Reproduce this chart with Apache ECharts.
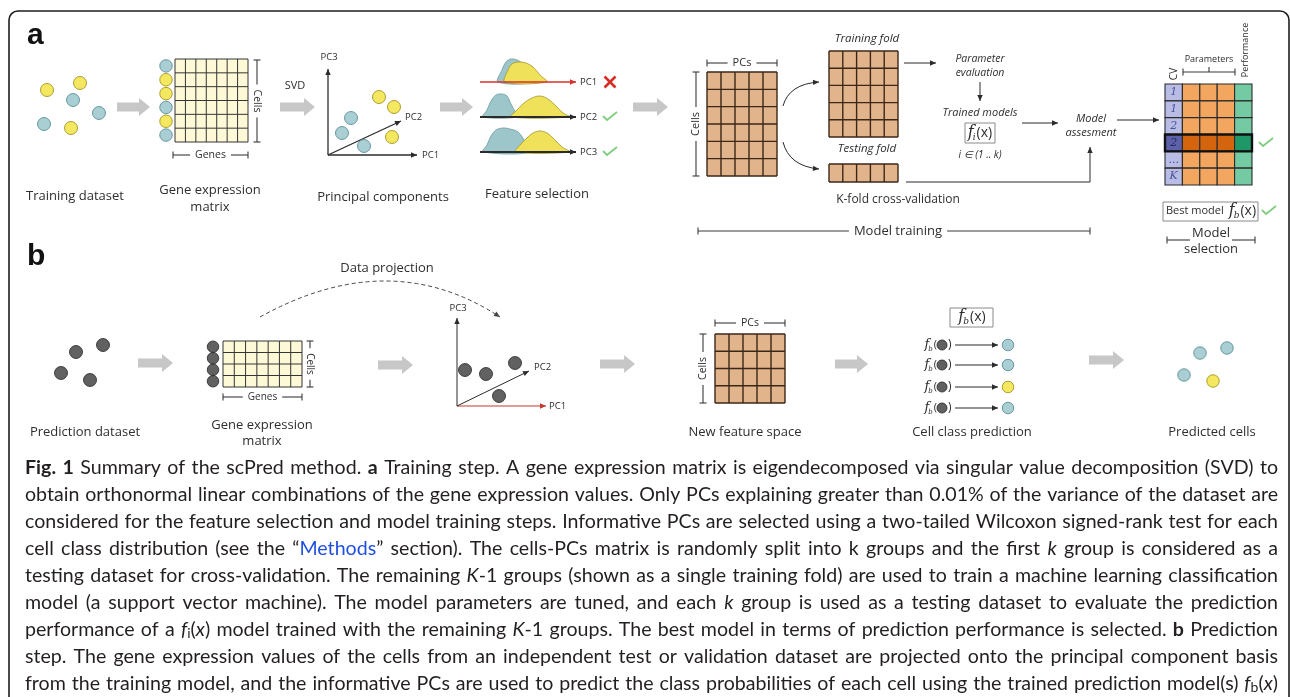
<!DOCTYPE html>
<html>
<head>
<meta charset="utf-8">
<title>scPred overview</title>
<script src="https://cdn.jsdelivr.net/npm/echarts@6/dist/echarts.min.js"></script>
<style>
  html, body { margin: 0; padding: 0; background: #ffffff; }
  #chart { width: 1290px; height: 697px; }
</style>
</head>
<body>
<div id="chart"></div>
<script>
// ---------------------------------------------------------------------------
// Data
// ---------------------------------------------------------------------------
// Cell positions in the dataset / PC-space plots and the class each cell belongs to
const trainingCells      = [[47, 90], [80, 83], [73, 100], [99, 113], [44, 124], [71, 128]];
const trainingClasses    = ['yellow', 'yellow', 'blue', 'blue', 'blue', 'yellow'];
const exprMatrixClasses  = ['blue', 'yellow', 'yellow', 'blue', 'yellow', 'blue'];
const pcScores           = [[379, 97], [394, 107], [351, 118], [342, 133], [392, 137], [364, 146]];
const pcClasses          = ['yellow', 'yellow', 'blue', 'blue', 'yellow', 'blue'];
const queryCells         = [[76, 352], [103, 345], [61, 373], [90, 380]];
const queryScores        = [[465, 370], [486, 374], [515, 363], [499, 396]];
const predictedClasses   = ['blue', 'blue', 'yellow', 'blue'];
const predictedCells     = [[1200, 353], [1227, 348], [1184, 375], [1213, 381]];
const predictedCellClass = ['blue', 'blue', 'blue', 'yellow'];

// Feature selection: class densities along each PC (outline points on the PC axis)
const featurePCs      = ['PC1', 'PC2', 'PC3'];
const featureSelected = [false, true, true];
const densityBlue = [
  [[498, 82], [502, 70], [506, 62], [511, 59], [517, 60], [523, 64], [528, 72], [532, 82]],
  [[483, 117], [487, 110], [491, 101], [496, 95], [502, 94], [507, 96], [511, 104], [516, 113], [520, 117]],
  [[483, 152], [487, 145], [491, 136], [496, 130], [503, 128], [510, 129], [518, 132], [524, 140], [530, 152]]
];
const densityYellow = [
  [[505, 82], [508, 70], [512, 64], [518, 62], [526, 63], [533, 67], [540, 75], [547, 82]],
  [[511, 117], [517, 110], [524, 103], [532, 98], [540, 96], [548, 99], [556, 106], [563, 113], [570, 117]],
  [[516, 152], [521, 144], [527, 138], [533, 133], [540, 131], [547, 133], [554, 139], [562, 147], [570, 152]]
];

// Cross-validation grid for model selection
const cvFolds          = ['1', '1', '2', '2', '...', 'K'];
const parameterColumns = 3;
const bestFold         = 3;

// Figure caption (markup: *bold*, _italic_, [link], ~subscript~)
const captionLines = [
  '*Fig. 1* Summary of the scPred method. *a* Training step. A gene expression matrix is eigendecomposed via singular value decomposition (SVD) to',
  'obtain orthonormal linear combinations of the gene expression values. Only PCs explaining greater than 0.01% of the variance of the dataset are',
  'considered for the feature selection and model training steps. Informative PCs are selected using a two-tailed Wilcoxon signed-rank test for each',
  'cell class distribution (see the \u201c[Methods]\u201d section). The cells-PCs matrix is randomly split into k groups and the first _k_ group is considered as a',
  'testing dataset for cross-validation. The remaining _K_-1 groups (shown as a single training fold) are used to train a machine learning classification',
  'model (a support vector machine). The model parameters are tuned, and each _k_ group is used as a testing dataset to evaluate the prediction',
  'performance of a _f_~i~(_x_) model trained with the remaining _K_-1 groups. The best model in terms of prediction performance is selected. *b* Prediction',
  'step. The gene expression values of the cells from an independent test or validation dataset are projected onto the principal component basis',
  'from the training model, and the informative PCs are used to predict the class probabilities of each cell using the trained prediction model(s) _f_~b~(_x_)'
];

// ---------------------------------------------------------------------------
// Layout and styles
// ---------------------------------------------------------------------------
const W = 1290, H = 697;
const FONT = '"Open Sans", "Noto Sans", sans-serif';
const SERIF = '"DejaVu Serif", "Liberation Serif", serif';
const CAPTION_FONT = '"Lato", "Open Sans", sans-serif';
const INK = '#2e2e2e';

const CELL_STYLE = {
  blue:   { fill: '#93c2c8', stroke: '#4d868f' },
  yellow: { fill: '#f2e23a', stroke: '#9a8a12' },
  query:  { fill: '#3a3a3a', stroke: '#262626' }
};
const MATRIX_STYLE = {
  expr: { fill: '#fdf8d6', stroke: '#353535', lw: 1 },
  pc:   { fill: '#e2b48b', stroke: '#3b2718', lw: 1.4 }
};
const SELECTION_PALETTE = {
  cv:    ['#b9bde6', '#5c61aa'],
  param: ['#f2a660', '#d5640f'],
  perf:  ['#74cba3', '#1d9866']
};

const matrixPanels = [
  { x0: 175, y0: 59,  x1: 248, y1: 142, cols: 7, rows: 6, kind: 'expr' },
  { x0: 707, y0: 72,  x1: 777, y1: 176, cols: 5, rows: 6, kind: 'pc' },
  { x0: 829, y0: 51,  x1: 898, y1: 137, cols: 5, rows: 5, kind: 'pc' },
  { x0: 829, y0: 164, x1: 898, y1: 182, cols: 5, rows: 1, kind: 'pc' },
  { x0: 223, y0: 341, x1: 302, y1: 387, cols: 7, rows: 4, kind: 'expr' },
  { x0: 715, y0: 334, x1: 785, y1: 403, cols: 5, rows: 4, kind: 'pc' }
];
const selectionGrid = { x0: 1165, y0: 84, x1: 1252, y1: 185 };
const predictionRowsY = [345, 365, 387, 408];
const featureAxisY = [82, 117, 152];

// cells listed beside the expression matrices, one per matrix row
function rowCenters(m) {
  const out = [];
  for (let r = 0; r < m.rows; r++) out.push(m.y0 + (m.y1 - m.y0) * (r + 0.5) / m.rows);
  return out;
}
const exprRowsA = rowCenters(matrixPanels[0]).map(y => [166, y]);
const exprRowsB = rowCenters(matrixPanels[4]).map(y => [213, y]);

const links = [
  { pts: [[783, 106], [819, 82]], ctrl: [789, 84], head: true },
  { pts: [[783, 142], [819, 169]], ctrl: [789, 166], head: true },
  { pts: [[904, 63], [936, 63]], head: true },
  { pts: [[980, 82], [980, 101]], head: true },
  { pts: [[1022, 123], [1058, 123]], head: true },
  { pts: [[1117, 120], [1159, 120]], head: true },
  { pts: [[906, 182], [1090, 182], [1090, 147]], head: true },
  { pts: [[328, 155], [328, 69]], head: true, width: 1.3 },
  { pts: [[328, 155], [417, 155]], head: true, width: 1.3 },
  { pts: [[328, 155], [401, 121]], head: true, width: 1.3 },
  { pts: [[480, featureAxisY[0]], [576, featureAxisY[0]]], head: true, color: '#d9302c', width: 1.5 },
  { pts: [[480, featureAxisY[1]], [576, featureAxisY[1]]], head: true, width: 2 },
  { pts: [[480, featureAxisY[2]], [576, featureAxisY[2]]], head: true, width: 2 },
  { pts: [[457, 406], [457, 318]], head: true },
  { pts: [[457, 406], [546, 406]], head: true, color: '#c0392b' },
  { pts: [[457, 406], [529, 371]], head: true },
  { pts: [[260, 317], [500, 317]], ctrl: [390, 245], head: true, dash: true, color: '#444444' }
].concat(predictionRowsY.map(y => ({ pts: [[955, y], [998, y]], head: true })));

const verdictMarks = featureSelected
  .map((ok, i) => ({ kind: ok ? 'check' : 'cross', at: [610, featureAxisY[i]] }))
  .concat([{ kind: 'check', at: [1266, 143] }, { kind: 'check', at: [1269, 211] }]);

const blockArrows = [
  [117, 150, 107], [280, 315, 107], [440, 473, 107], [633, 668, 107],
  [138, 173, 363], [378, 413, 365], [600, 635, 364], [835, 868, 364], [1089, 1124, 360]
];

const brackets = [
  { dir: 'h', at: 155, from: 173, to: 248, label: 'Genes', size: 10.5 },
  { dir: 'v', at: 257, from: 60, to: 142, label: 'Cells', size: 10.5, rot: -1 },
  { dir: 'h', at: 63, from: 707, to: 777, label: 'PCs', size: 11 },
  { dir: 'v', at: 696, from: 72, to: 176, label: 'Cells', size: 11, rot: 1 },
  { dir: 'h', at: 231, from: 698, to: 1090, label: 'Model training', size: 13, center: 898 },
  { dir: 'h', at: 72, from: 1183, to: 1235, mid: true },
  { dir: 'h', at: 240, from: 1167, to: 1255, gap: [1190, 1232] },
  { dir: 'h', at: 397, from: 223, to: 302, label: 'Genes', size: 10 },
  { dir: 'v', at: 310, from: 341, to: 387, label: 'Cells', size: 10, rot: -1 },
  { dir: 'h', at: 323, from: 715, to: 785, label: 'PCs', size: 10.5 },
  { dir: 'v', at: 703, from: 334, to: 403, label: 'Cells', size: 10.5, rot: 1 }
];

// ---------------------------------------------------------------------------
// Helpers
// ---------------------------------------------------------------------------
const measureCtx = document.createElement('canvas').getContext('2d');
function textWidth(text, font) { measureCtx.font = font; return measureCtx.measureText(text).width; }
function fontOf(size, opt) {
  opt = opt || {};
  return (opt.italic ? 'italic ' : '') + (opt.bold ? 'bold ' : '') + size + 'px ' + (opt.family || FONT);
}
function textEl(text, x, y, size, opt) {
  opt = opt || {};
  return {
    type: 'text', x: x, y: y, rotation: opt.rot || 0, z: 20, silent: true,
    style: {
      text: text, fill: opt.color || INK, font: fontOf(size, opt),
      align: opt.align || 'center', verticalAlign: 'middle',
      textAlign: opt.align || 'center', textVerticalAlign: 'middle'
    }
  };
}
// f with subscript, optionally followed by "(x)"
function fnLabel(x, y, sub, size, align, tail) {
  const fFont = fontOf(size, { italic: true, family: SERIF });
  const sFont = fontOf(Math.round(size * 0.55), { italic: true, family: SERIF });
  const tFont = fontOf(Math.round(size * 0.88), {});
  const tailText = tail === undefined ? '(x)' : tail;
  const wf = textWidth('f', fFont), ws = textWidth(sub, sFont), wt = textWidth(tailText, tFont);
  const total = wf + ws + wt;
  const x0 = align === 'right' ? x - total : (align === 'left' ? x : x - total / 2);
  return [
    textEl('f', x0, y, size, { italic: true, family: SERIF, align: 'left' }),
    textEl(sub, x0 + wf - 1, y + size * 0.32, Math.round(size * 0.55), { italic: true, family: SERIF, align: 'left' }),
    textEl(tailText, x0 + wf + ws, y, Math.round(size * 0.88), { align: 'left' })
  ];
}

function arrowHead(tip, from, size, color) {
  const dx = tip[0] - from[0], dy = tip[1] - from[1];
  const L = Math.hypot(dx, dy) || 1, ux = dx / L, uy = dy / L;
  const bx = tip[0] - ux * size, by = tip[1] - uy * size, half = size * 0.45;
  return { type: 'polygon', shape: { points: [tip, [bx - uy * half, by + ux * half], [bx + uy * half, by - ux * half]] }, style: { fill: color } };
}

function shapeSeries(name, items, draw, z) {
  return {
    type: 'custom', name: name, silent: true, clip: false, z: z,
    data: items.map((_, i) => [0, 0, i]),
    encode: { x: 0, y: 1 },
    renderItem: (params, api) => draw(items[params.dataIndex], p => api.coord(p))
  };
}

function dotSeries(name, pts, classes, size) {
  return {
    type: 'scatter', name: name, symbol: 'circle', symbolSize: size, silent: true, z: 8,
    data: pts.map((p, i) => ({
      value: p,
      itemStyle: { color: CELL_STYLE[classes[i]].fill, borderColor: CELL_STYLE[classes[i]].stroke, borderWidth: 1 }
    }))
  };
}

// ---------------------------------------------------------------------------
// Renderers
// ---------------------------------------------------------------------------
function drawMatrix(m, c) {
  const st = MATRIX_STYLE[m.kind];
  const a = c([m.x0, m.y0]), b = c([m.x1, m.y1]);
  const ch = [{ type: 'rect', shape: { x: a[0], y: a[1], width: b[0] - a[0], height: b[1] - a[1] }, style: { fill: st.fill } }];
  for (let i = 0; i <= m.cols; i++) {
    const x = a[0] + (b[0] - a[0]) * i / m.cols;
    ch.push({ type: 'line', shape: { x1: x, y1: a[1], x2: x, y2: b[1] }, style: { stroke: st.stroke, lineWidth: st.lw } });
  }
  for (let j = 0; j <= m.rows; j++) {
    const y = a[1] + (b[1] - a[1]) * j / m.rows;
    ch.push({ type: 'line', shape: { x1: a[0], y1: y, x2: b[0], y2: y }, style: { stroke: st.stroke, lineWidth: st.lw } });
  }
  return { type: 'group', children: ch };
}

function drawSelection(g, c) {
  const a = c([g.x0, g.y0]), b = c([g.x1, g.y1]);
  const nCols = parameterColumns + 2, nRows = cvFolds.length;
  const cw = (b[0] - a[0]) / nCols, rh = (b[1] - a[1]) / nRows;
  const ch = [];
  for (let r = 0; r < nRows; r++) {
    for (let k = 0; k < nCols; k++) {
      const kind = k === 0 ? 'cv' : (k === nCols - 1 ? 'perf' : 'param');
      ch.push({ type: 'rect', shape: { x: a[0] + k * cw, y: a[1] + r * rh, width: cw, height: rh },
        style: { fill: SELECTION_PALETTE[kind][r === bestFold ? 1 : 0], stroke: '#2b2b2b', lineWidth: 1.1 } });
    }
    ch.push({ type: 'text', x: a[0] + cw / 2, y: a[1] + (r + 0.5) * rh, z2: 5,
      style: { text: cvFolds[r], font: fontOf(11, { italic: true, family: SERIF }), fill: r === bestFold ? '#262a66' : '#4b5296',
        align: 'center', verticalAlign: 'middle', textAlign: 'center', textVerticalAlign: 'middle' } });
  }
  ch.push({ type: 'rect', z2: 6, shape: { x: a[0], y: a[1] + bestFold * rh, width: b[0] - a[0], height: rh },
    style: { fill: null, stroke: '#111111', lineWidth: 2.4 } });
  return { type: 'group', children: ch };
}

function drawLink(l, c) {
  const pts = l.pts.map(c);
  const col = l.color || '#2b2b2b', lw = l.width || 1;
  const dash = l.dash ? [4, 3] : null;
  const ch = [];
  if (l.ctrl) {
    const cp = c(l.ctrl);
    ch.push({ type: 'bezierCurve', shape: { x1: pts[0][0], y1: pts[0][1], cpx1: cp[0], cpy1: cp[1], x2: pts[1][0], y2: pts[1][1] },
      style: { stroke: col, lineWidth: lw, fill: null, lineDash: dash } });
    if (l.head) ch.push(arrowHead(pts[1], cp, 6, col));
  } else {
    ch.push({ type: 'polyline', shape: { points: pts }, style: { stroke: col, lineWidth: lw, fill: null, lineDash: dash } });
    if (l.head) ch.push(arrowHead(pts[pts.length - 1], pts[pts.length - 2], 6, col));
  }
  return { type: 'group', children: ch };
}

function drawVerdict(v, c) {
  const p = c(v.at);
  if (v.kind === 'cross') {
    const s = 5.5;
    return { type: 'group', children: [
      { type: 'line', shape: { x1: p[0] - s, y1: p[1] - s, x2: p[0] + s, y2: p[1] + s }, style: { stroke: '#d62f2a', lineWidth: 2.6 } },
      { type: 'line', shape: { x1: p[0] - s, y1: p[1] + s, x2: p[0] + s, y2: p[1] - s }, style: { stroke: '#d62f2a', lineWidth: 2.6 } }
    ] };
  }
  return { type: 'polyline', shape: { points: [[p[0] - 7, p[1] - 1], [p[0] - 3, p[1] + 3], [p[0] + 7, p[1] - 5]] },
    style: { stroke: '#7fce7f', lineWidth: 1.8, fill: null } };
}

function drawBlockArrow(a, c) {
  const s = c([a[0], a[2]]), e = c([a[1], a[2]]);
  const y = s[1], head = 11, bh = 4.5, hh = 9;
  return { type: 'polygon', shape: { points: [
    [s[0], y - bh], [e[0] - head, y - bh], [e[0] - head, y - hh], [e[0], y],
    [e[0] - head, y + hh], [e[0] - head, y + bh], [s[0], y + bh]] }, style: { fill: '#c7c7c7' } };
}

function drawDensity(d, c) {
  const st = d.cls === 'blue' ? { fill: '#9cc6ca', stroke: '#6a9aa0' } : { fill: '#efe25a', stroke: '#a4962c' };
  return { type: 'polygon', shape: { points: d.pts.map(c), smooth: 0.35 }, style: { fill: st.fill, stroke: st.stroke, lineWidth: 0.8 } };
}

function drawBracket(b, c) {
  const ch = [], t = 3.5, st = { stroke: '#3a3a3a', lineWidth: 1.1 };
  let gap = null;
  if (b.gap) gap = b.gap;
  else if (b.label) {
    const half = textWidth(b.label, fontOf(b.size)) / 2 + 5;
    const mid = b.center !== undefined ? b.center : (b.from + b.to) / 2;
    gap = [mid - half, mid + half];
  }
  const seg = (u0, u1) => {
    const p = b.dir === 'h' ? [c([u0, b.at]), c([u1, b.at])] : [c([b.at, u0]), c([b.at, u1])];
    ch.push({ type: 'line', shape: { x1: p[0][0], y1: p[0][1], x2: p[1][0], y2: p[1][1] }, style: st });
  };
  if (gap) { seg(b.from, gap[0]); seg(gap[1], b.to); } else seg(b.from, b.to);
  [b.from, b.to].forEach(u => {
    const p = b.dir === 'h' ? c([u, b.at]) : c([b.at, u]);
    if (b.dir === 'h') ch.push({ type: 'line', shape: { x1: p[0], y1: p[1] - t, x2: p[0], y2: p[1] + t }, style: st });
    else ch.push({ type: 'line', shape: { x1: p[0] - t, y1: p[1], x2: p[0] + t, y2: p[1] }, style: st });
  });
  if (b.mid) {
    const p = c([(b.from + b.to) / 2, b.at]);
    ch.push({ type: 'line', shape: { x1: p[0], y1: p[1], x2: p[0], y2: p[1] - 5 }, style: st });
  }
  if (b.label) {
    const mid = b.center !== undefined ? b.center : (b.from + b.to) / 2;
    const p = b.dir === 'h' ? c([mid, b.at]) : c([b.at, mid]);
    ch.push({ type: 'text', x: p[0], y: p[1], rotation: b.rot ? b.rot * Math.PI / 2 : 0,
      style: { text: b.label, font: fontOf(b.size), fill: INK, align: 'center', verticalAlign: 'middle', textAlign: 'center', textVerticalAlign: 'middle' } });
  }
  return { type: 'group', children: ch };
}

// ---------------------------------------------------------------------------
// Text labels
// ---------------------------------------------------------------------------
const labels = [
  textEl('a', 27, 36, 30, { bold: true, family: '"Liberation Sans", Arial, sans-serif', align: 'left', color: '#111' }),
  textEl('b', 27, 257, 30, { bold: true, family: '"Liberation Sans", Arial, sans-serif', align: 'left', color: '#111' }),
  textEl('Training dataset', 75, 196, 13),
  textEl('Gene expression', 210, 190, 13),
  textEl('matrix', 210, 207, 13),
  textEl('SVD', 295, 86, 11),
  textEl('PC3', 329, 57, 9.5),
  textEl('PC2', 405, 117, 9.5, { align: 'left' }),
  textEl('PC1', 422, 155, 9.5, { align: 'left' }),
  textEl('Principal components', 383, 197, 13),
  textEl('Feature selection', 537, 194, 13),
  textEl('Training fold', 867, 39, 11.5, { italic: true }),
  textEl('Testing fold', 867, 149, 11.5, { italic: true }),
  textEl('K-fold cross-validation', 898, 200, 12),
  textEl('Parameter', 980, 59, 10.5, { italic: true }),
  textEl('evaluation', 980, 73, 10.5, { italic: true }),
  textEl('Trained models', 980, 113, 11, { italic: true }),
  textEl('i \u2208 (1 .. k)', 980, 155, 10, { italic: true }),
  textEl('Model', 1091, 119, 11, { italic: true }),
  textEl('assesment', 1091, 133, 11, { italic: true }),
  textEl('CV', 1174, 74, 10, { rot: Math.PI / 2 }),
  textEl('Parameters', 1209, 59, 9),
  textEl('Performance', 1245, 50, 9, { rot: Math.PI / 2 }),
  textEl('Model', 1211, 233, 13),
  textEl('selection', 1211, 249, 13),
  textEl('Data projection', 387, 268, 13),
  textEl('Prediction dataset', 85, 432, 13),
  textEl('Gene expression', 262, 425, 13),
  textEl('matrix', 262, 441, 13),
  textEl('PC3', 458, 308, 9.5),
  textEl('PC2', 534, 367, 9.5, { align: 'left' }),
  textEl('PC1', 549, 406, 9.5, { align: 'left' }),
  textEl('New feature space', 745, 432, 13),
  textEl('Cell class prediction', 972, 432, 13),
  textEl('Predicted cells', 1212, 432, 13)
].concat(featurePCs.map((pc, i) => textEl(pc, 580, featureAxisY[i], 9.5, { align: 'left' })));

// function boxes
const boxes = [
  { type: 'rect', shape: { x: 965, y: 123, width: 30, height: 20 }, style: { fill: '#fff', stroke: '#8a8a8a', lineWidth: 1 }, z: 15, silent: true },
  { type: 'rect', shape: { x: 1163, y: 202, width: 95, height: 19 }, style: { fill: '#fff', stroke: '#8a8a8a', lineWidth: 1 }, z: 15, silent: true },
  { type: 'rect', shape: { x: 950, y: 308, width: 43, height: 19 }, style: { fill: '#fff', stroke: '#8a8a8a', lineWidth: 1 }, z: 15, silent: true }
];
const bestLabelEnd = 1166 + textWidth('Best model', fontOf(11));
const fnTexts = [].concat(
  fnLabel(980, 133, 'i', 16, 'center'),
  fnLabel(972, 317, 'b', 16, 'center'),
  [textEl('Best model', 1166, 211, 11, { align: 'left' })],
  fnLabel(bestLabelEnd + 5, 211, 'b', 16, 'left'),
  ...predictionRowsY.map(y => fnLabel(937, y, 'b', 13, 'right', '(')),
  predictionRowsY.map(y => textEl(')', 948, y, 12, { align: 'left' }))
);

// ---------------------------------------------------------------------------
// Caption, justified to the frame width
// ---------------------------------------------------------------------------
function parseMarkup(line) {
  const segs = [];
  let bold = false, ital = false, link = false, sub = false, buf = '';
  const flush = () => { if (buf) { segs.push({ t: buf, bold, ital, link, sub }); buf = ''; } };
  for (const ch of line) {
    if (ch === '*') { flush(); bold = !bold; }
    else if (ch === '_') { flush(); ital = !ital; }
    else if (ch === '[' || ch === ']') { flush(); link = ch === '['; }
    else if (ch === '~') { flush(); sub = !sub; }
    else buf += ch;
  }
  flush();
  const words = [[]];
  segs.forEach(s => {
    s.t.split(' ').forEach((p, i) => {
      if (i > 0) words.push([]);
      if (p) words[words.length - 1].push(Object.assign({}, s, { t: p }));
    });
  });
  return words.filter(w => w.length);
}
const capLeft = 25, capRight = 1278, capTop = 468, capStep = 26.9;
const capWords = captionLines.map(parseMarkup);
function segFont(s, size) {
  return (s.ital ? 'italic ' : '') + (s.bold ? 'bold ' : '') + (s.sub ? Math.round(size * 0.7) : size) + 'px ' + CAPTION_FONT;
}
function wordWidth(w, size) { return w.reduce((acc, s) => acc + textWidth(s.t, segFont(s, size)), 0); }
const natural = capWords.map(ws => ws.reduce((a, w) => a + wordWidth(w, 18), 0) + (ws.length - 1) * textWidth(' ', '18px ' + CAPTION_FONT));
const capSize = Math.round(10 * 18 * 0.99 * (capRight - capLeft) / Math.max.apply(null, natural)) / 10;
const captionEls = [];
capWords.forEach((ws, li) => {
  const y = capTop + li * capStep;
  const widths = ws.map(w => wordWidth(w, capSize));
  const space = ((capRight - capLeft) - widths.reduce((a, b) => a + b, 0)) / (ws.length - 1);
  let x = capLeft;
  ws.forEach((w, wi) => {
    let sx = x;
    w.forEach(s => {
      const f = segFont(s, capSize);
      captionEls.push({ type: 'text', x: sx, y: y + (s.sub ? 4 : 0), z: 20, silent: true,
        style: { text: s.t, font: f, fill: s.link ? '#1f4fe0' : '#231f20', align: 'left', verticalAlign: 'middle', textAlign: 'left', textVerticalAlign: 'middle' } });
      sx += textWidth(s.t, f);
    });
    x += widths[wi] + space;
  });
});

// ---------------------------------------------------------------------------
// Chart
// ---------------------------------------------------------------------------
const densities = [];
featurePCs.forEach((_, i) => {
  densities.push({ cls: 'blue', pts: densityBlue[i] });
  densities.push({ cls: 'yellow', pts: densityYellow[i] });
});

const chart = echarts.init(document.getElementById('chart'), null, { renderer: 'canvas', width: W, height: H });
chart.setOption({
  animation: false,
  backgroundColor: '#ffffff',
  grid: { left: 0, right: 0, top: 0, bottom: 0 },
  xAxis: { type: 'value', min: 0, max: W, show: false },
  yAxis: { type: 'value', min: 0, max: H, inverse: true, show: false },
  graphic: [
    { type: 'rect', shape: { x: 9, y: 11, width: 1280, height: 760, r: 9 }, style: { fill: null, stroke: '#1e1e1e', lineWidth: 1.6 }, z: 0, silent: true }
  ].concat(boxes, labels, fnTexts, captionEls),
  series: [
    shapeSeries('densities', densities, drawDensity, 2),
    shapeSeries('matrices', matrixPanels, drawMatrix, 3),
    shapeSeries('model selection', [selectionGrid], drawSelection, 3),
    shapeSeries('block arrows', blockArrows, drawBlockArrow, 3),
    shapeSeries('connectors', links, drawLink, 4),
    shapeSeries('verdicts', verdictMarks, drawVerdict, 4),
    shapeSeries('brackets', brackets, drawBracket, 4),
    dotSeries('training cells', trainingCells, trainingClasses, 13),
    dotSeries('expression rows a', exprRowsA, exprMatrixClasses, 12.5),
    dotSeries('pc scores', pcScores, pcClasses, 13),
    dotSeries('query cells', queryCells, queryCells.map(() => 'query'), 13),
    dotSeries('expression rows b', exprRowsB, exprRowsB.map(() => 'query'), 11.5),
    dotSeries('query scores', queryScores, queryScores.map(() => 'query'), 13),
    dotSeries('query inputs', predictionRowsY.map(y => [942, y]), predictionRowsY.map(() => 'query'), 10),
    dotSeries('predicted labels', predictionRowsY.map(y => [1008, y]), predictedClasses, 11.5),
    dotSeries('predicted cells', predictedCells, predictedCellClass, 12.5)
  ]
});
</script>
</body>
</html>
